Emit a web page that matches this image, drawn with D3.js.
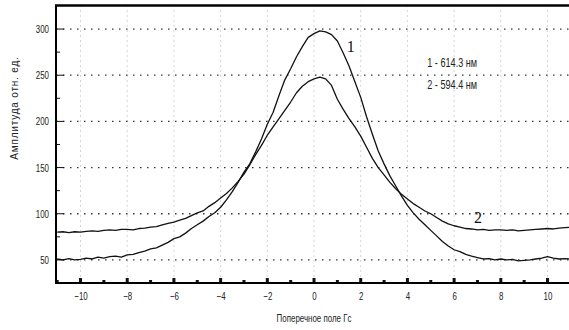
<!DOCTYPE html>
<html>
<head>
<meta charset="utf-8">
<script src="https://cdn.jsdelivr.net/npm/d3@7"></script>
<style>
  body { margin: 0; background: #fff; }
  text { font-family: "Liberation Sans", Arial, sans-serif; fill: #222; }
</style>
</head>
<body>
<div id="chart"></div>
<script>
// Data (sampled every 0.25 Gs from -11 to 11)
const fieldValues = d3.range(-11, 11.001, 0.25);
const series614 = [
  51, 50, 51.5, 50, 50.5, 52, 51, 53, 52, 53.5, 54, 53, 55.5, 56, 58, 59.5,
  62, 63, 66, 69, 73, 75, 79, 84, 88, 92, 97, 101, 107, 115, 124, 134,
  145, 154, 167, 181, 197, 210, 228, 245, 257, 270, 281, 291, 295, 298, 297, 294,
  287, 274, 260, 243, 226, 205, 186, 168, 154, 141, 130, 119, 109, 101, 94, 88,
  82, 76, 70, 65, 61, 59, 56, 54, 52.5, 51, 51.5, 50, 51, 50, 50.5, 49,
  49.5, 50, 51, 52, 53.5, 52, 51, 51.5, 51
];
const series594 = [
  80, 80.5, 79.5, 80.5, 80, 81, 81.5, 81, 82, 82.5, 82, 83, 83, 82.5, 84, 84.5,
  85.5, 86, 88, 89.5, 91, 93, 95, 98, 101, 103, 108, 112, 117, 122, 128, 135,
  143, 153, 164, 174, 185, 194, 203, 212, 221, 231, 238, 243, 246, 248, 246, 239,
  224, 213, 203, 194, 184, 172, 160, 150, 142, 134, 127, 121, 116, 111, 107, 103,
  100, 96, 92, 89, 87, 85.5, 84, 83.5, 82.5, 83, 82, 82.5, 82.5, 82, 82.5, 81.5,
  82, 82.5, 83, 83.5, 84, 83.5, 84.5, 85, 85.5
];
const yMajorTicks = [50, 100, 150, 200, 250, 300];
const yMinorTicks = [75, 125, 175, 225, 275];
const xMajorTicks = [-10, -8, -6, -4, -2, 0, 2, 4, 6, 8, 10];
const xMinorTicks = [-11, -9, -7, -5, -3, -1, 1, 3, 5, 7, 9];
const legendLines = ["1 - 614.3 нм", "2 - 594.4 нм"];

const width = 569, height = 330;
const margin = { top: 5.5, right: 0, bottom: 47, left: 56 };
const plotW = width - margin.left - margin.right;
const plotH = height - margin.top - margin.bottom;

// squeeze text horizontally, like the narrow font of the original
function condense(sel, k) {
  sel.each(function () {
    const len = this.getComputedTextLength();
    d3.select(this)
      .attr("textLength", len * k)
      .attr("lengthAdjust", "spacingAndGlyphs");
  });
}

const svg = d3.select("#chart")
  .append("svg")
  .attr("width", width)
  .attr("height", height);

const g = svg.append("g")
  .attr("transform", `translate(${margin.left},${margin.top})`);

// Scales
const x = d3.scaleLinear().domain([-11.05, 10.92]).range([0, plotW]);
const y = d3.scaleLinear().domain([25, 325.5]).range([plotH, 0]);

g.append("clipPath").attr("id", "clip")
  .append("rect").attr("width", plotW).attr("height", plotH);

// Grid
g.selectAll(".vgrid")
  .data(xMajorTicks)
  .enter()
  .append("line")
  .attr("class", "vgrid")
  .attr("x1", d => x(d)).attr("x2", d => x(d))
  .attr("y1", 0).attr("y2", plotH)
  .attr("stroke", "#aaa")
  .attr("stroke-width", 1)
  .attr("stroke-dasharray", "1,4");

g.selectAll(".hgrid")
  .data(yMajorTicks)
  .enter()
  .append("line")
  .attr("class", "hgrid")
  .attr("x1", 0).attr("x2", plotW)
  .attr("y1", d => y(d)).attr("y2", d => y(d))
  .attr("stroke", "#333")
  .attr("stroke-width", 1.3)
  .attr("stroke-dasharray", "1.5,5.5");

// Curves
const line = d3.line()
  .x((d, i) => x(fieldValues[i]))
  .y(d => y(d));

const curves = g.append("g").attr("clip-path", "url(#clip)");
[series614, series594].forEach(s => {
  curves.append("path")
    .datum(s)
    .attr("d", line)
    .attr("fill", "none")
    .attr("stroke", "#111")
    .attr("stroke-width", 1.3)
    .attr("stroke-linejoin", "round");
});

// Axes
const yAxis = d3.axisLeft(y)
  .tickValues(yMajorTicks)
  .tickSize(0)
  .tickPadding(7);
const yAxisG = g.append("g").call(yAxis);
yAxisG.select(".domain").remove();
yAxisG.selectAll("text").style("font-size", "11px").call(condense, 0.72);

const xAxis = d3.axisBottom(x)
  .tickValues(xMajorTicks)
  .tickSize(0)
  .tickPadding(9);
const xAxisG = g.append("g")
  .attr("transform", `translate(0,${plotH})`)
  .call(xAxis);
xAxisG.select(".domain").remove();
xAxisG.selectAll("text").style("font-size", "11px").call(condense, 0.72);

// inward tick marks on the y axis
g.selectAll(".ymaj")
  .data(yMajorTicks)
  .enter()
  .append("line")
  .attr("x1", 0).attr("x2", 8)
  .attr("y1", d => y(d)).attr("y2", d => y(d))
  .attr("stroke", "#111");
g.selectAll(".ymin")
  .data(yMinorTicks)
  .enter()
  .append("line")
  .attr("x1", 0).attr("x2", 4)
  .attr("y1", d => y(d)).attr("y2", d => y(d))
  .attr("stroke", "#111");

// block ticks on the x axis
g.selectAll(".xmaj")
  .data(xMajorTicks)
  .enter()
  .append("rect")
  .attr("x", d => x(d) - 1.5)
  .attr("y", plotH - 5)
  .attr("width", 3)
  .attr("height", 5)
  .attr("fill", "#111");
g.selectAll(".xmin")
  .data(xMinorTicks)
  .enter()
  .append("rect")
  .attr("x", d => x(d) - 1.5)
  .attr("y", plotH - 3)
  .attr("width", 3)
  .attr("height", 3)
  .attr("fill", "#111");

// Frame: left, top, bottom
g.append("line")
  .attr("x1", 0).attr("x2", 0).attr("y1", 0).attr("y2", plotH)
  .attr("stroke", "#000").attr("stroke-width", 2);
g.append("line")
  .attr("x1", -1).attr("x2", plotW).attr("y1", 0).attr("y2", 0)
  .attr("stroke", "#000").attr("stroke-width", 2.5);
g.append("line")
  .attr("x1", -1).attr("x2", plotW).attr("y1", plotH).attr("y2", plotH)
  .attr("stroke", "#000").attr("stroke-width", 2);

// Curve labels
g.append("text")
  .attr("x", x(1.4))
  .attr("y", y(275))
  .style("font-family", "'Liberation Serif', serif")
  .style("font-size", "16px")
  .style("fill", "#111")
  .text("1");
g.append("text")
  .attr("x", x(6.85))
  .attr("y", y(90))
  .style("font-family", "'Liberation Serif', serif")
  .style("font-size", "16px")
  .style("fill", "#111")
  .text("2");

// Legend text
g.selectAll(".legend")
  .data(legendLines)
  .enter()
  .append("text")
  .attr("x", x(4.85))
  .attr("y", (d, i) => y(259) + i * 22)
  .style("font-size", "12px")
  .text(d => d)
  .call(condense, 0.76);

// Axis titles
svg.append("text")
  .attr("transform", `translate(${margin.left + x(0) + 0},${height - 8})`)
  .attr("text-anchor", "middle")
  .style("font-size", "11px")
  .text("Поперечное поле Гс")
  .call(condense, 0.72);

svg.append("text")
  .attr("transform", "translate(18,108) rotate(-90)")
  .attr("text-anchor", "middle")
  .style("font-size", "10px")
  .style("letter-spacing", "0.8px")
  .text("Амплитуда отн. ед.");
</script>
</body>
</html>
